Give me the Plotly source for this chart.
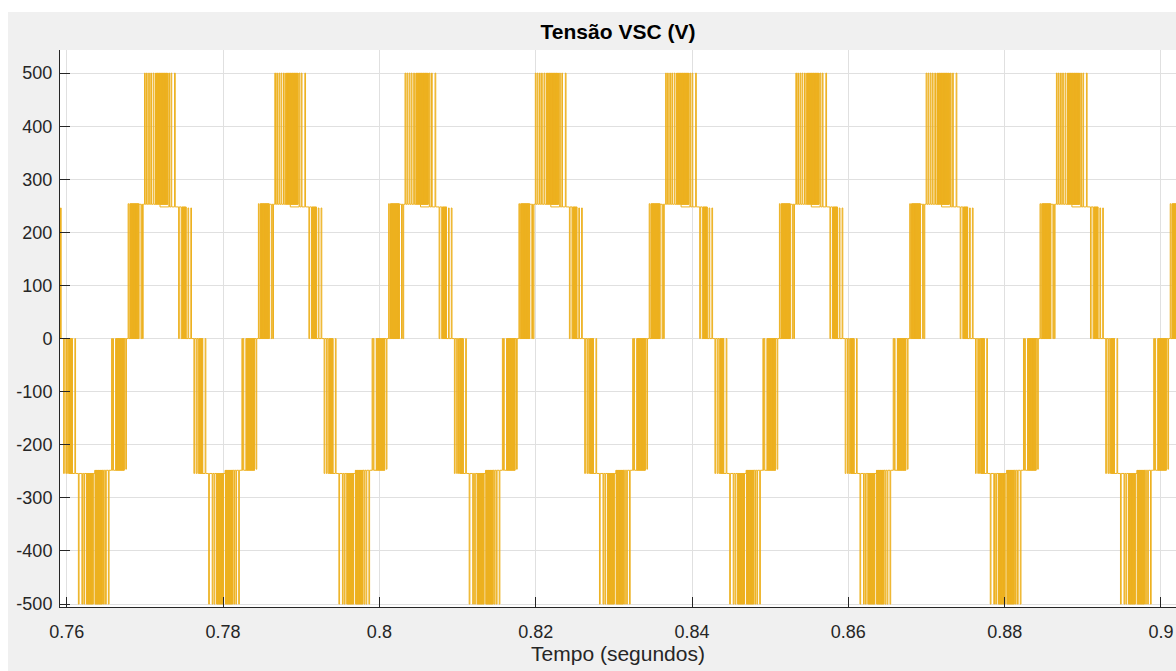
import plotly.graph_objects as go

# ---------------- data ----------------
# centres of the positive (+500 V) bursts, seconds
peak_times = [0.75526, 0.77193, 0.78860, 0.80526, 0.82193,
              0.83860, 0.85526, 0.87193, 0.88860, 0.90526]
half_period_ms = 8.333   # negative burst centre = peak - half period

# positive half-cycle, offsets in ms from the burst centre
pos_base_t = [-2.69, 0.00, 3.33]          # base level changes
pos_base_v = [253, 248, 0]
pos_iso_t = [-4.08, -2.43, -2.24, -1.98, -1.73, -1.45, -1.18, -0.87,
             1.13, 1.41, 1.86, 2.38, 2.71, 3.58, 3.94]
pos_iso_v = [254, 0, 0, 500, 500, 500, 500, 500,
             500, 500, 500, 0, 0, 246, 246]
pos_solid_t0 = [-3.84, -0.58, 2.85]
pos_solid_t1 = [-2.69, 1.02, 3.33]
pos_solid_v = [254, 500, 0]

# negative half-cycle, offsets in ms from the negative burst centre
neg_base_t = [-2.88, 0.00, 3.74]
neg_base_v = [-254, -248, 0]
neg_iso_t = [-4.00, -3.71, -3.48, -2.56, -2.11, -1.66, -1.41,
             1.11, 1.37, 1.73, 2.14, 2.29, 3.95]
neg_iso_v = [-254, -254, -254, 0, -500, -500, -500,
             -500, -500, -500, 0, 0, -246]
neg_solid_t0 = [-3.30, -1.09, 0.03, 2.67]
neg_solid_t1 = [-2.88, -0.19, 0.96, 3.74]
neg_solid_v = [-254, -500, -500, 0]

x_ticks = [0.76, 0.78, 0.80, 0.82, 0.84, 0.86, 0.88, 0.90]
x_tick_text = ["0.76", "0.78", "0.8", "0.82", "0.84", "0.86", "0.88", "0.9"]
y_ticks = [-500, -400, -300, -200, -100, 0, 100, 200, 300, 400, 500]
y_tick_text = ["-500", "-400", "-300", "-200", "-100", "0",
               "100", "200", "300", "400", "500"]

# ---------------- build the switched waveform ----------------
ISO_W = 0.09    # ms, width of a single narrow pulse
DENSE = 0.05    # ms, switching step inside a dense burst


def half_cycle(centre_s, bt, bv, it, iv, s0, s1, sv):
    def base_at(t):
        lvl = 0
        for tt, vv in zip(bt, bv):
            if t >= tt - 1e-9:
                lvl = vv
        return lvl

    events = []
    for t, v in zip(it, iv):
        events.append((t, 1, v, None))
    for a, b, v in zip(s0, s1, sv):
        events.append((a, 0, v, b))
    for t, v in zip(bt, bv):
        events.append((t, 2, v, None))
    events.sort(key=lambda e: (e[0], e[1]))

    xs, ys = [], []

    def add(t_ms, v):
        xs.append(centre_s + t_ms / 1000.0)
        ys.append(v)

    for t, kind, v, end in events:
        if kind == 1:
            b = base_at(t)
            add(t, b); add(t, v); add(t + ISO_W, v); add(t + ISO_W, b)
        elif kind == 2:
            prev = base_at(t - 1e-3)
            add(t, prev); add(t, v)
        else:
            b = base_at(t)
            k = t
            while k < end - 1e-9:
                add(k, b); add(k, v); add(k + DENSE / 2, v); add(k + DENSE / 2, b)
                k += DENSE
    return xs, ys


X, Y = [0.7585], [0]
for p in peak_times:
    n_centre = p - half_period_ms / 1000.0
    xs, ys = half_cycle(n_centre, neg_base_t, neg_base_v, neg_iso_t, neg_iso_v,
                        neg_solid_t0, neg_solid_t1, neg_solid_v)
    X += xs; Y += ys
    xs, ys = half_cycle(p, pos_base_t, pos_base_v, pos_iso_t, pos_iso_v,
                        pos_solid_t0, pos_solid_t1, pos_solid_v)
    X += xs; Y += ys
X.append(0.912); Y.append(0)

# ---------------- figure ----------------
W, H = 1176, 671
L, R, T, B = 60, 0, 50, 64
pw, ph = W - L - R, H - T - B

fig = go.Figure(go.Scatter(
    x=X, y=Y, mode="lines",
    line=dict(color="#EDB120", width=1, simplify=False),
    hoverinfo="skip", showlegend=False))

FONT = "Liberation Sans, Arial, Helvetica, sans-serif"
DARK = "#262626"
GRID = "#e0e0e0"
BG = "#f0f0f0"

fig.update_layout(
    width=W, height=H, autosize=False,
    margin=dict(l=L, r=R, t=T, b=B, pad=0),
    paper_bgcolor=BG, plot_bgcolor="white",
    font=dict(family=FONT, color=DARK, size=18),
    title=dict(text="<b>Tensão VSC (V)</b>", font=dict(size=21, color="#000000", family=FONT),
               x=0.5, xref="paper", xanchor="center",
               y=1 - 32 / H, yref="container", yanchor="middle"),
    shapes=[
        # white strip at the top of the window
        dict(type="rect", xref="paper", yref="paper", layer="below",
             x0=-L / pw - 0.01, x1=1.01, y0=(H - B - 12) / ph, y1=(H - B + 2) / ph,
             fillcolor="white", line=dict(width=0)),
        # white strip at the left of the window
        dict(type="rect", xref="paper", yref="paper", layer="below",
             x0=-L / pw - 0.01, x1=(8 - L) / pw, y0=-B / ph - 0.01, y1=(H - B + 2) / ph,
             fillcolor="white", line=dict(width=0)),
    ],
)

fig.update_xaxes(
    range=[0.759136, 0.90192], tickvals=x_ticks, ticktext=x_tick_text,
    showgrid=True, gridcolor=GRID, gridwidth=1, zeroline=False,
    showline=True, linecolor=DARK, linewidth=1, mirror=False,
    ticks="inside", ticklen=10, tickcolor=DARK, tickwidth=1,
    tickfont=dict(size=18, color=DARK), ticklabelstandoff=8,
    title=dict(text="Tempo (segundos)", font=dict(size=21, color=DARK), standoff=4),
    automargin=False,
)
fig.update_yaxes(
    range=[-505.5, 543.5], tickvals=y_ticks, ticktext=y_tick_text,
    showgrid=True, gridcolor=GRID, gridwidth=1, zeroline=False,
    showline=True, linecolor=DARK, linewidth=1, mirror=False,
    ticks="inside", ticklen=10, tickcolor=DARK, tickwidth=1,
    tickfont=dict(size=18, color=DARK), ticklabelstandoff=3,
    automargin=False,
)

fig.write_html("out.html")
